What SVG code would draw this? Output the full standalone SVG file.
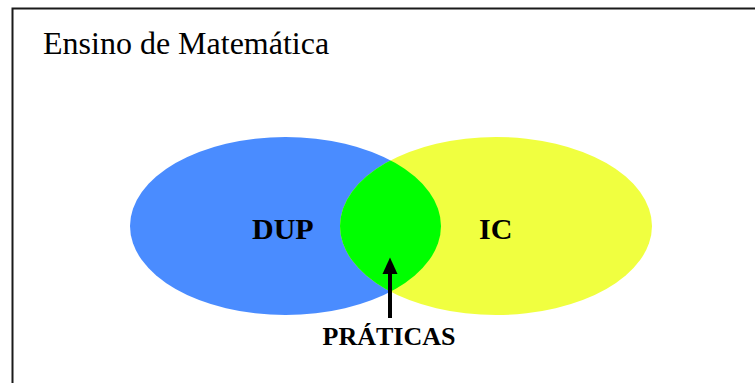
<svg xmlns="http://www.w3.org/2000/svg" width="755" height="383" viewBox="0 0 755 383">
<style>
.lbl{font-family:"Liberation Serif","Times New Roman",serif;font-weight:bold;fill:#000}
.title{font-family:"Liberation Serif","Times New Roman",serif;fill:#000}
</style>
<defs>
<clipPath id="clipBlue"><ellipse cx="285.5" cy="226" rx="155.5" ry="89"/></clipPath>
<marker id="ah" markerWidth="4" markerHeight="4" refX="2" refY="2" orient="auto" markerUnits="userSpaceOnUse" viewBox="0 0 4 4"><path d="M0,0 L4,2 L0,4 Z"/></marker>
</defs>
<rect x="0" y="0" width="755" height="383" fill="#fff"/>
<g id="frame">
<path d="M12.5,383 V8.5 H755" fill="none" stroke="#1a1a1a" stroke-width="2"/>
<text class="title" x="43" y="54" font-size="32">Ensino de Matemática</text>
</g>
<g id="dup">
<ellipse cx="285.5" cy="226" rx="155.5" ry="89" fill="#4a8cff"/>
</g>
<g id="ic">
<ellipse cx="496" cy="226" rx="156" ry="89" fill="#f0ff40"/>
</g>
<g id="praticas">
<ellipse cx="496" cy="226" rx="156" ry="89" fill="#00ff00" clip-path="url(#clipBlue)"/>
</g>
<text class="lbl" x="252" y="239" font-size="30">DUP</text>
<text class="lbl" x="479" y="239" font-size="30">IC</text>
<g id="connectors">
<line x1="390" y1="318" x2="390" y2="272" stroke="#000" stroke-width="4"/>
<path d="M382.5,274 L390,257.5 L397.5,274 Z" fill="#000"/>
</g>
<text class="lbl" x="322.5" y="345" font-size="26">PRÁTICAS</text>
</svg>
